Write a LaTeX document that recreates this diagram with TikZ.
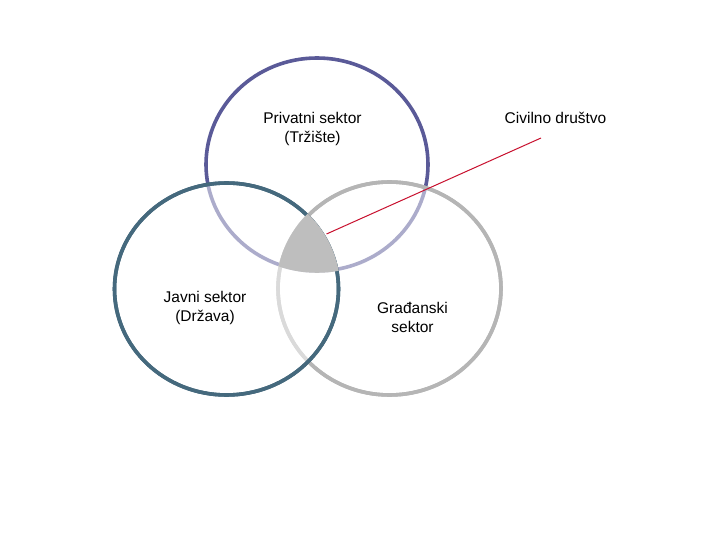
\documentclass[tikz,border=0pt]{standalone}
\usepackage{fontspec}
\setmainfont{Liberation Sans}
\definecolor{cpriv}{HTML}{5A5A98}
\definecolor{cjav}{HTML}{45697D}
\definecolor{cgra}{HTML}{B5B5B5}
\definecolor{cmid}{HTML}{BEBEBE}
\definecolor{cred}{HTML}{C8102E}
\tikzset{
  ring/.style={line width=3.6pt},
  veil/.style={fill=white,fill opacity=0.5},
  lbl/.style={font=\fontsize{15.5}{19}\selectfont,align=center,text=black,inner sep=0pt}
}
\begin{document}
\begin{tikzpicture}[x=1pt,y=-1pt]
\useasboundingbox[fill=white] (0,0) rectangle (720,540);
% top circle (private)
\draw[ring,cpriv] (317,164.5) ellipse [x radius=111pt, y radius=106.5pt];
% right circle (civic)
\draw[ring,cgra,veil] (389.5,288.5) ellipse [x radius=111.5pt, y radius=106.5pt];
\draw[ring,cgra] (389.5,288.5) ellipse [x radius=111.5pt, y radius=106.5pt];
% left circle (public)
\draw[ring,cjav,veil] (226.5,289) ellipse [x radius=112pt, y radius=106pt];
\draw[ring,cjav] (226.5,289) ellipse [x radius=112pt, y radius=106pt];
% triple intersection
\begin{scope}
  \clip (317,164.5) ellipse [x radius=112.8pt, y radius=108.3pt];
  \clip (389.5,288.5) ellipse [x radius=113.3pt, y radius=108.3pt];
  \fill[cmid] (226.5,289) ellipse [x radius=113.8pt, y radius=107.8pt];
\end{scope}
% labels
\node[lbl] (priv) at (312.5,128.5) {Privatni sektor\\(Tržište)};
\node[lbl] (civ) at (555.5,118) {Civilno društvo};
\node[lbl] (jav) at (205,307.5) {Javni sektor\\(Država)};
\node[lbl] (gra) at (412.5,317.5) {Građanski\\sektor};
% pointer
\coordinate (pa) at (326.5,234);
\coordinate (pb) at (541,138);
\draw[cred,line width=1pt] (pa) -- (pb);
\end{tikzpicture}
\end{document}
